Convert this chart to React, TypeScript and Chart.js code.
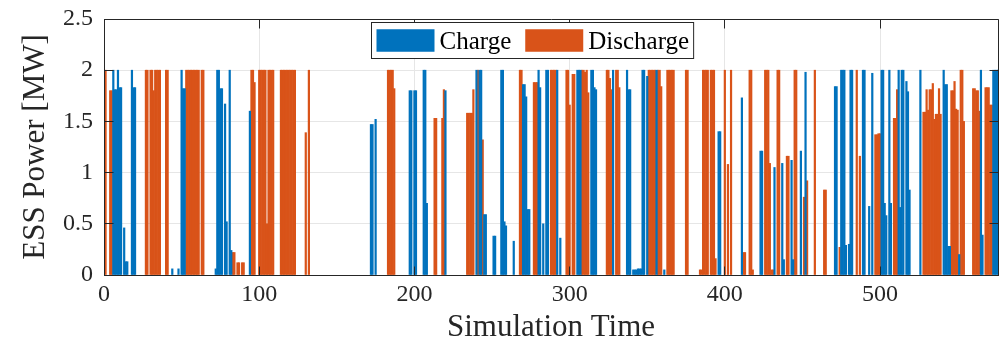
import React, { useEffect, useRef } from "react";
import { Chart, registerables } from "chart.js";

Chart.register(...registerables);

const X_MAX = 576;
const xTickValues = [0, 100, 200, 300, 400, 500];
const yTickValues = [0, 0.5, 1, 1.5, 2, 2.5];
const seriesLabels = ["Charge", "Discharge"];
const seriesColors = ["#0072BD", "#D95319"];
const xTitle = "Simulation Time";
const yTitle = "ESS Power [MW]";

// [time step, MW]
const chargePoints: [number, number][] = [
  [6, 2], [7, 1.81], [8, 1.81], [9, 2], [10, 1.83], [11, 1.83], [13, 0.46], [14, 0.13], [15, 0.13],
  [18, 2], [19, 1.83], [20, 1.83],
  [44, 0.06], [48, 0.06], [50, 2], [51, 1.82], [52, 1.82],
  [72, 0.06], [73, 2], [74, 2], [75, 1.82], [76, 1.82], [78, 1.67], [79, 0.52], [81, 2], [82, 0.24],
  [94, 1.6],
  [172, 1.47], [173, 1.47], [175, 1.52],
  [197, 1.8], [198, 1.8], [200, 1.8], [201, 1.8], [206, 2], [207, 2], [208, 0.7], [220, 1.8],
  [240, 2], [242, 2], [243, 2], [245, 0.59], [246, 0.59], [251, 0.38], [252, 0.38],
  [256, 2], [257, 2], [258, 0.52], [259, 0.48], [264, 0.33],
  [270, 1.86], [271, 1.86], [272, 1.74], [273, 0.64], [274, 0.64], [280, 2], [281, 1.83], [283, 0.5],
  [285, 2], [286, 2], [292, 2], [294, 0.36],
  [305, 2], [306, 2], [307, 2], [314, 2], [315, 2], [316, 1.83], [317, 1.81], [328, 2],
  [337, 2], [338, 1.81], [339, 1.81], [341, 0.05], [342, 0.05], [343, 0.05], [344, 0.06], [345, 0.06], [346, 0.06],
  [347, 2], [348, 2], [350, 1.94], [356, 2], [361, 0.05],
  [396, 1.4], [397, 1.4], [411, 1.73], [423, 1.21], [424, 1.21],
  [432, 1.05], [437, 1.09], [438, 0.15], [443, 1.12], [444, 0.15], [449, 1.21], [452, 1.98],
  [471, 1.84], [472, 1.84], [475, 2], [476, 2], [477, 2], [478, 0.29], [480, 0.3], [481, 2], [482, 2],
  [489, 2], [490, 2], [493, 0.67], [495, 1.97], [501, 2], [502, 2], [503, 0.7], [504, 0.58], [506, 2], [507, 0.7],
  [512, 2], [513, 0.66], [514, 2], [515, 2], [517, 1.89], [518, 1.79], [519, 0.83], [526, 2],
  [541, 2], [542, 1.86], [543, 1.86], [544, 0.28], [545, 0.28], [551, 0.2], [565, 2], [566, 0.39],
  [573, 2], [574, 2], [575, 2], [576, 2],
];

const dischargePoints: [number, number][] = [
  [1, 2], [4, 1.8], [5, 1.8], [27, 2], [28, 2], [30, 2], [31, 2], [32, 1.8], [33, 2], [34, 2], [35, 2], [36, 2],
  [40, 2], [41, 2],
  [53, 2], [54, 2], [55, 2], [56, 2], [57, 2], [58, 2], [59, 2], [60, 2], [61, 2], [63, 2], [64, 2],
  [83, 0.22], [84, 0.22], [86, 0.12], [87, 0.12], [89, 0.12], [90, 0.12], [95, 2], [96, 2], [97, 1.88],
  [100, 2], [101, 2], [102, 2], [103, 2], [104, 2], [105, 0.5], [106, 2], [107, 2], [108, 2], [109, 2],
  [114, 2], [115, 2], [116, 2], [117, 2], [118, 2], [119, 2], [120, 2], [121, 2], [122, 2], [123, 2],
  [130, 1.39], [132, 2],
  [183, 2], [184, 2], [185, 2], [186, 2], [187, 1.82],
  [213, 1.53], [214, 1.53], [218, 1.53], [219, 1.81],
  [234, 1.58], [235, 1.58], [236, 1.58], [237, 1.58], [238, 1.81], [241, 2], [244, 1.32],
  [268, 2], [269, 2], [277, 1.88], [278, 1.88], [279, 1.88], [288, 2], [289, 2], [290, 2], [291, 2],
  [298, 2], [299, 2], [300, 1.66], [302, 1.96], [303, 1.96],
  [308, 2], [309, 2], [310, 1.98], [311, 2], [312, 1.78], [324, 2], [325, 2], [326, 1.92], [327, 1.81],
  [330, 2], [331, 2], [332, 1.83],
  [351, 2], [352, 2], [353, 2], [354, 2], [355, 2], [357, 2], [358, 2], [359, 1.84],
  [363, 2], [364, 2], [365, 2], [366, 2], [367, 2],
  [375, 2], [376, 2], [384, 0.05], [385, 0.05], [386, 2], [387, 2], [388, 2], [389, 2],
  [391, 2], [392, 2], [393, 2], [394, 0.16], [400, 2], [402, 1.08], [404, 2], [412, 0.22], [413, 0.22],
  [416, 2], [417, 2], [418, 0.05], [426, 2], [427, 2], [428, 2], [429, 1.09], [430, 0.05], [431, 0.05],
  [434, 2], [435, 2], [440, 1.16], [441, 1.16], [445, 2], [446, 2], [451, 0.76], [453, 0.92], [458, 2],
  [464, 0.83], [465, 0.83], [474, 0.27], [485, 2], [487, 1.16],
  [497, 1.37], [498, 1.37], [499, 1.38], [500, 1.38], [509, 1.53], [510, 1.53], [511, 1.81],
  [528, 1.59], [529, 1.59], [530, 1.81], [531, 1.61], [532, 1.81], [533, 1.81], [534, 1.87], [535, 1.52],
  [536, 1.57], [537, 1.57], [538, 1.82], [539, 1.57], [546, 1.8], [547, 1.8], [548, 1.89], [549, 1.62],
  [550, 1.61], [552, 2], [553, 2], [554, 1.5], [560, 1.82], [561, 1.82], [562, 1.8], [563, 1.8], [564, 1.6],
  [568, 1.83], [569, 1.83], [570, 1.83], [571, 1.66], [572, 1.66],
];

const FONT = "'Liberation Serif', 'Times New Roman', serif";
const INK = "#262626";
const GRID = "#e6e6e6";

const framePlugin = {
  id: "matlabFrame",
  afterDraw(chart: any) {
    const { ctx, chartArea: a, scales } = chart;
    const L = Math.floor(a.left) + 0.5;
    const R = Math.floor(a.right) + 0.5;
    const T = Math.floor(a.top) + 0.5;
    const B = Math.floor(a.bottom) + 0.5;
    const tick = 9;
    ctx.save();
    ctx.strokeStyle = INK;
    ctx.lineWidth = 1;
    ctx.beginPath();
    ctx.rect(L, T, R - L, B - T);
    ctx.stroke();
    ctx.beginPath();
    for (const v of yTickValues) {
      const y = Math.floor(scales.y.getPixelForValue(v)) + 0.5;
      ctx.moveTo(L, y); ctx.lineTo(L + tick, y);
      ctx.moveTo(R, y); ctx.lineTo(R - tick, y);
    }
    for (const v of xTickValues) {
      const x = Math.floor(scales.x.getPixelForValue(v)) + 0.5;
      ctx.moveTo(x, B); ctx.lineTo(x, B - tick);
      ctx.moveTo(x, T); ctx.lineTo(x, T + tick);
    }
    ctx.stroke();

    // legend box
    const fontPx = 25;
    ctx.font = `${fontPx}px ${FONT}`;
    const boxLeft = Math.floor(a.left + 267) + 0.5;
    const boxTop = Math.floor(a.top + 3) + 0.5;
    const boxH = 36;
    const padL = 5;
    const swW = 58;
    const swH = 22.5;
    const gapText = 5;
    const gapItem = 14;
    const padR = 4.5;
    const ds = chart.data.datasets;
    let w = padL;
    ds.forEach((d: any, i: number) => {
      w += swW + gapText + ctx.measureText(d.label).width;
      if (i < ds.length - 1) w += gapItem;
    });
    w += padR;
    ctx.fillStyle = "#ffffff";
    ctx.fillRect(boxLeft, boxTop, w, boxH);
    ctx.strokeStyle = INK;
    ctx.strokeRect(boxLeft, boxTop, w, boxH);
    let x = boxLeft + padL;
    const swTop = boxTop + (boxH - swH) / 2;
    ds.forEach((d: any) => {
      ctx.fillStyle = d.backgroundColor;
      ctx.fillRect(x, swTop, swW, swH);
      x += swW + gapText;
      ctx.fillStyle = "#000000";
      ctx.textBaseline = "alphabetic";
      ctx.textAlign = "left";
      ctx.fillText(d.label, x, boxTop + 26.5);
      x += ctx.measureText(d.label).width + gapItem;
    });
    ctx.restore();
  },
};

export default function App() {
  const ref = useRef<HTMLCanvasElement | null>(null);
  useEffect(() => {
    if (!ref.current) return;
    const chart = new Chart(ref.current, {
      type: "bar",
      data: {
        datasets: [
          {
            label: seriesLabels[0],
            data: chargePoints.map(([x, y]) => ({ x, y })),
            backgroundColor: seriesColors[0],
            borderWidth: 0,
            barPercentage: 1,
            categoryPercentage: 1,
            grouped: false,
          } as any,
          {
            label: seriesLabels[1],
            data: dischargePoints.map(([x, y]) => ({ x, y })),
            backgroundColor: seriesColors[1],
            borderWidth: 0,
            barPercentage: 1,
            categoryPercentage: 1,
            grouped: false,
          } as any,
        ],
      },
      options: {
        animation: false,
        responsive: false,
        devicePixelRatio: 1,
        layout: { padding: { top: 19, right: 1, left: 0, bottom: 0 } },
        plugins: { legend: { display: false }, tooltip: { enabled: false } },
        scales: {
          x: {
            type: "linear",
            min: 0,
            max: X_MAX,
            offset: false,
            grid: { offset: false, color: GRID, drawTicks: false },
            border: { display: true, color: INK },
            afterBuildTicks: (s: any) => {
              s.ticks = xTickValues.map((value) => ({ value }));
            },
            afterFit: (s: any) => {
              s.height = 71;
              s.paddingLeft = 0;
              s.paddingRight = 0;
            },
            ticks: {
              autoSkip: false,
              maxRotation: 0,
              padding: 5,
              color: INK,
              font: { family: FONT, size: 24 },
              callback: (v: any) => String(v),
            },
            title: {
              display: true,
              text: xTitle,
              color: INK,
              font: { family: FONT, size: 31, lineHeight: 1.2 },
              padding: { top: 0, bottom: 0 },
            },
          } as any,
          y: {
            min: 0,
            max: 2.5,
            grid: { color: GRID, drawTicks: false },
            border: { display: true, color: INK },
            afterBuildTicks: (s: any) => {
              s.ticks = yTickValues.map((value) => ({ value }));
            },
            afterFit: (s: any) => {
              s.width = 104;
              s.paddingTop = 0;
              s.paddingBottom = 0;
            },
            ticks: {
              padding: 11,
              color: INK,
              font: { family: FONT, size: 24 },
              callback: (v: any) => String(v),
            },
            title: {
              display: true,
              text: yTitle,
              color: INK,
              font: { family: FONT, size: 31, lineHeight: 1.2 },
              padding: { top: 17, bottom: 0 },
            },
          } as any,
        },
      },
      plugins: [framePlugin],
    });
    return () => chart.destroy();
  }, []);
  return (
    <div style={{ position: "absolute", left: 0, top: 0, width: 999, height: 346, background: "#fff" }}>
      <canvas ref={ref} width={999} height={346} />
    </div>
  );
}
